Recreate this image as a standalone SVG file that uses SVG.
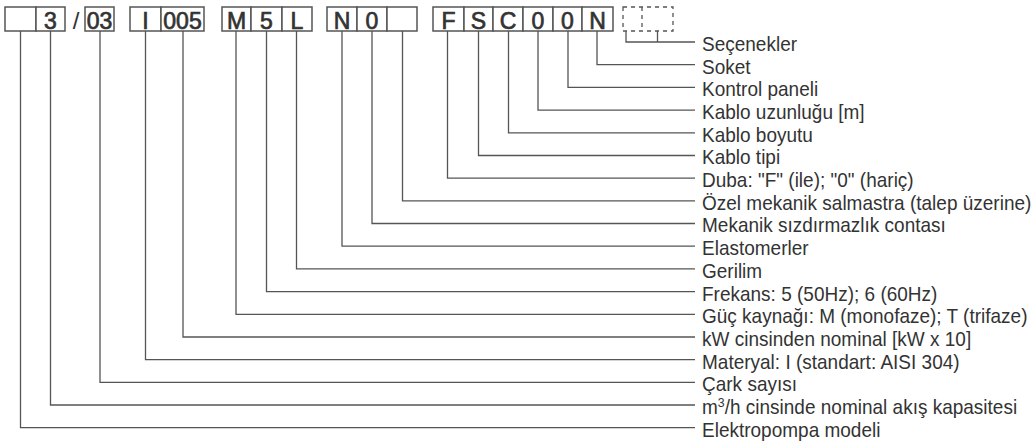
<svg xmlns="http://www.w3.org/2000/svg" width="1032" height="446" viewBox="0 0 1032 446">
<style>
.cell{fill:#fff;stroke:#555;stroke-width:1.5}
.dash{fill:none;stroke:#555;stroke-width:1.3;stroke-dasharray:4 4}
.code{font-family:"Liberation Sans",Arial,sans-serif;font-size:23px;fill:#333;stroke:#333;stroke-width:0.7;text-anchor:middle}
.slash{font-family:"Liberation Sans",Arial,sans-serif;font-size:24px;fill:#333;text-anchor:middle}
.lbl{font-family:"Liberation Sans",Arial,sans-serif;font-size:20px;fill:#333}
.conn{fill:none;stroke:#555;stroke-width:1.3}
</style>
<rect width="1032" height="446" fill="#fff"/>
<g id="code-boxes">
  <g id="box-model"><rect class="cell" x="5" y="7" width="31" height="24"/></g>
  <g id="box-flow"><rect class="cell" x="36" y="7" width="29" height="24"/><text class="code" x="50.5" y="28.5">3</text></g>
  <g id="slash"><text class="slash" x="76" y="29">/</text></g>
  <g id="box-stages"><rect class="cell" x="85" y="7" width="29" height="24"/><text class="code" x="99.5" y="28.5">03</text></g>
  <g id="box-material"><rect class="cell" x="130" y="7" width="31" height="24"/><text class="code" x="145.5" y="28.5">I</text></g>
  <g id="box-power"><rect class="cell" x="161" y="7" width="43" height="24"/><text class="code" x="182.5" y="28.5">005</text></g>
  <g id="box-supply"><rect class="cell" x="222" y="7" width="29" height="24"/><text class="code" x="236.5" y="28.5">M</text></g>
  <g id="box-freq"><rect class="cell" x="251" y="7" width="31" height="24"/><text class="code" x="266.5" y="28.5">5</text></g>
  <g id="box-voltage"><rect class="cell" x="282" y="7" width="30" height="24"/><text class="code" x="297" y="28.5">L</text></g>
  <g id="box-elastomer"><rect class="cell" x="327" y="7" width="30" height="24"/><text class="code" x="342" y="28.5">N</text></g>
  <g id="box-seal"><rect class="cell" x="357" y="7" width="30" height="24"/><text class="code" x="372" y="28.5">0</text></g>
  <g id="box-specialseal"><rect class="cell" x="387" y="7" width="30" height="24"/></g>
  <g id="box-float"><rect class="cell" x="433" y="7" width="31" height="24"/><text class="code" x="448.5" y="28.5">F</text></g>
  <g id="box-cabletype"><rect class="cell" x="464" y="7" width="29" height="24"/><text class="code" x="478.5" y="28.5">S</text></g>
  <g id="box-cablesize"><rect class="cell" x="493" y="7" width="30" height="24"/><text class="code" x="508" y="28.5">C</text></g>
  <g id="box-cablelen"><rect class="cell" x="523" y="7" width="30" height="24"/><text class="code" x="538" y="28.5">0</text></g>
  <g id="box-panel"><rect class="cell" x="553" y="7" width="29" height="24"/><text class="code" x="567.5" y="28.5">0</text></g>
  <g id="box-socket"><rect class="cell" x="582" y="7" width="31" height="24"/><text class="code" x="597.5" y="28.5">N</text></g>
  <g id="box-options"><rect class="dash" x="623" y="7" width="50" height="24"/><line class="dash" x1="642" y1="7" x2="642" y2="31"/></g>
</g>
<g id="connectors">
  <polyline class="conn" points="626,31 626,42 695,42"/>
  <line class="conn" x1="657.5" y1="31" x2="657.5" y2="42"/>
  <polyline class="conn" points="597,31 597,64.7 695,64.7"/>
  <polyline class="conn" points="568,31 568,87.4 695,87.4"/>
  <polyline class="conn" points="538,31 538,110.1 695,110.1"/>
  <polyline class="conn" points="508.5,31 508.5,132.8 695,132.8"/>
  <polyline class="conn" points="478.5,31 478.5,155.5 695,155.5"/>
  <polyline class="conn" points="447.5,31 447.5,178.1 695,178.1"/>
  <polyline class="conn" points="402.5,31 402.5,200.8 695,200.8"/>
  <polyline class="conn" points="372,31 372,223.5 695,223.5"/>
  <polyline class="conn" points="342,31 342,246.2 695,246.2"/>
  <polyline class="conn" points="296.5,31 296.5,268.9 695,268.9"/>
  <polyline class="conn" points="266.5,31 266.5,291.6 695,291.6"/>
  <polyline class="conn" points="236,31 236,314.3 695,314.3"/>
  <polyline class="conn" points="183,31 183,337 695,337"/>
  <polyline class="conn" points="145.5,31 145.5,359.7 695,359.7"/>
  <polyline class="conn" points="100,31 100,382.4 695,382.4"/>
  <polyline class="conn" points="50.5,31 50.5,405 695,405"/>
  <polyline class="conn" points="20.5,31 20.5,427.7 695,427.7"/>
</g>
<g id="labels" transform="translate(702 0) scale(0.95 1)">
  <text class="lbl" x="0" y="51">Seçenekler</text>
  <text class="lbl" x="0" y="73.7">Soket</text>
  <text class="lbl" x="0" y="96.4">Kontrol paneli</text>
  <text class="lbl" x="0" y="119.1">Kablo uzunluğu [m]</text>
  <text class="lbl" x="0" y="141.8">Kablo boyutu</text>
  <text class="lbl" x="0" y="164.5">Kablo tipi</text>
  <text class="lbl" x="0" y="187.1">Duba: "F" (ile); "0" (hariç)</text>
  <text class="lbl" x="0" y="209.8">Özel mekanik salmastra (talep üzerine)</text>
  <text class="lbl" x="0" y="232.5">Mekanik sızdırmazlık contası</text>
  <text class="lbl" x="0" y="255.2">Elastomerler</text>
  <text class="lbl" x="0" y="277.9">Gerilim</text>
  <text class="lbl" x="0" y="300.6">Frekans: 5 (50Hz); 6 (60Hz)</text>
  <text class="lbl" x="0" y="323.3">Güç kaynağı: M (monofaze); T (trifaze)</text>
  <text class="lbl" x="0" y="346">kW cinsinden nominal [kW x 10]</text>
  <text class="lbl" x="0" y="368.7">Materyal: I (standart: AISI 304)</text>
  <text class="lbl" x="0" y="391.4">Çark sayısı</text>
  <text class="lbl" x="0" y="414">m<tspan dy="-7" font-size="13">3</tspan><tspan dy="7">/h cinsinde nominal akış kapasitesi</tspan></text>
  <text class="lbl" x="0" y="436.7">Elektropompa modeli</text>
</g>
</svg>
